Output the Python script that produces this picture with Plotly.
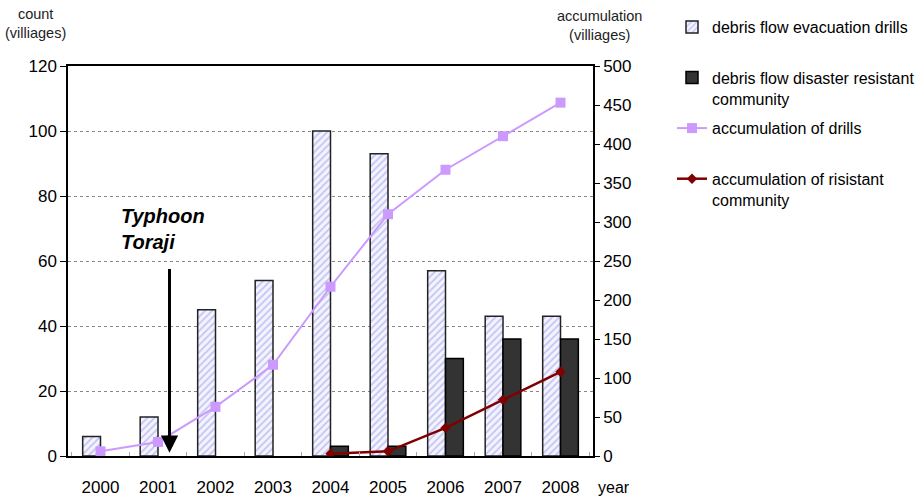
import plotly.graph_objects as go

years = ["2000", "2001", "2002", "2003", "2004", "2005", "2006", "2007", "2008"]
drills = [6, 12, 45, 54, 100, 93, 57, 43, 43]
resistant = [None, None, None, None, 3, 3, 30, 36, 36]
acc_drills = [6, 18, 63, 117, 217, 310, 367, 410, 453]
acc_years = ["2004", "2005", "2006", "2007", "2008"]
acc_resistant = [3, 6, 36, 72, 108]

FONT = "Liberation Sans, Arial, sans-serif"
W, H = 917, 497
L, R, T, B = 68, 324, 66, 41
PW, PH = W - L - R, H - T - B


def px(xp):
    return (xp - L) / PW


def py(yp):
    return (H - B - yp) / PH


fig = go.Figure()
fig.add_trace(go.Bar(
    x=years, y=drills, name="debris flow evacuation drills<br> ",
    marker=dict(color="#ffffff", line=dict(color="#222222", width=1.5),
                pattern=dict(shape="/", fgcolor="#9595e6", bgcolor="#f4f4ff", size=5, solidity=0.35)),
    legendgroup="a",
))
fig.add_trace(go.Bar(
    x=years, y=resistant, name="debris flow disaster resistant<br>community",
    marker=dict(color="#333333", line=dict(color="#000000", width=1.5)),
    legendgroup="b",
))
fig.add_trace(go.Scatter(
    x=years, y=acc_drills, name="accumulation of drills<br> ", yaxis="y2",
    mode="lines+markers", line=dict(color="#cc99ff", width=2),
    marker=dict(symbol="square", size=10, color="#cc99ff"),
    legendgroup="c",
))
fig.add_trace(go.Scatter(
    x=acc_years, y=acc_resistant, name="accumulation of risistant<br>community", yaxis="y2",
    mode="lines+markers", line=dict(color="#800000", width=2.5),
    marker=dict(symbol="diamond", size=8, color="#800000"),
    legendgroup="d",
))

fig.add_annotation(
    x=1.2, y=1.0, ax=1.2, ay=58, xref="x", yref="y", axref="x", ayref="y",
    text="", showarrow=True, arrowhead=2, arrowsize=1.15, arrowwidth=3, arrowcolor="#000000",
)
fig.add_annotation(
    x=0.33, y=69.7, xref="x", yref="y", xanchor="left", yanchor="middle",
    text="<b><i>Typhoon<br>Toraji</i></b>", showarrow=False, align="left",
    font=dict(family=FONT, size=20, color="#000000"),
)
fig.add_annotation(
    x=px(35), y=py(24), xref="paper", yref="paper", xanchor="center", yanchor="middle",
    text="count<br>(villiages)", showarrow=False,
    font=dict(family=FONT, size=14.5, color="#222222"),
)
fig.add_annotation(
    x=px(599), y=py(26), xref="paper", yref="paper", xanchor="center", yanchor="middle",
    text="accumulation<br>(villiages)", showarrow=False,
    font=dict(family=FONT, size=14.5, color="#222222"),
)
fig.add_annotation(
    x=px(614), y=py(487), xref="paper", yref="paper", xanchor="center", yanchor="middle",
    text="year", showarrow=False, font=dict(family=FONT, size=16, color="#000000"),
)

fig.update_layout(
    width=W, height=H,
    margin=dict(l=L, r=R, t=T, b=B, pad=0, autoexpand=False),
    paper_bgcolor="white", plot_bgcolor="white",
    barmode="group", bargap=0.38, bargroupgap=0.0,
    font=dict(family=FONT, size=16, color="#000000"),
    showlegend=True,
    legend=dict(
        x=672 / W, y=1 - 10 / H, xref="container", yref="container",
        xanchor="left", yanchor="top", traceorder="grouped", tracegroupgap=6,
        valign="top", font=dict(family=FONT, size=16, color="#000000"),
        bgcolor="rgba(0,0,0,0)",
    ),
    xaxis=dict(
        type="category", showline=True, linecolor="#000000", linewidth=1.5, mirror=True,
        ticks="inside", tickson="boundaries", ticklen=4, tickcolor="#aaaaaa",
        ticklabelstandoff=15, tickfont=dict(family=FONT, size=17), showgrid=False,
        automargin=False,
    ),
    yaxis=dict(
        range=[0, 120], dtick=20, showline=True, linecolor="#000000", linewidth=1.5,
        ticks="outside", ticklen=6, tickcolor="#000000",
        showgrid=True, gridcolor="#888888", griddash="dot", gridwidth=1,
        zeroline=False, tickfont=dict(family=FONT, size=17), automargin=False,
    ),
    yaxis2=dict(
        range=[0, 500], dtick=50, overlaying="y", side="right", showline=True,
        linecolor="#000000", linewidth=1.5, ticks="outside", ticklen=5, tickcolor="#000000",
        showgrid=False, zeroline=False, tickfont=dict(family=FONT, size=17), automargin=False,
    ),
)

fig.write_html("out.html")
